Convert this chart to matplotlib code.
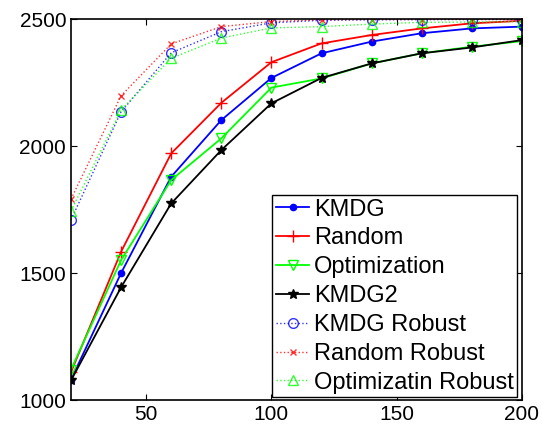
import matplotlib.pyplot as plt

plt.rcParams['font.family'] = ['Liberation Sans', 'DejaVu Sans']

x = [20, 40, 60, 80, 100, 120, 140, 160, 180, 200]
kmdg = [1080, 1500, 1879, 2102, 2268, 2365, 2411, 2444, 2463, 2470]
random_ = [1110, 1584, 1971, 2170, 2330, 2404, 2437, 2463, 2483, 2493]
optim = [1120, 1551, 1866, 2030, 2230, 2266, 2325, 2365, 2391, 2413]
kmdg2 = [1077, 1444, 1774, 1984, 2168, 2268, 2325, 2365, 2388, 2417]
kmdg_rob = [1709, 2135, 2367, 2450, 2485, 2495, 2497, 2498, 2498, 2498]
random_rob = [1791, 2198, 2402, 2470, 2490, 2497, 2498, 2498, 2499, 2499]
optim_rob = [1745, 2142, 2345, 2425, 2465, 2470, 2480, 2487, 2488, 2490]

fig = plt.figure(figsize=(5.42, 4.32), dpi=100)
ax = fig.add_axes([0.131, 0.074, 0.832, 0.882])

ax.plot(x, kmdg, 'b.-', lw=1.3, ms=9, label='KMDG')
ax.plot(x, random_, 'r+-', lw=1.3, ms=8, label='Random')
ax.plot(x, optim, 'v-', color='#00ff00', mfc='none', lw=1.3, ms=7, label='Optimization')
ax.plot(x, kmdg2, 'k*-', lw=1.3, ms=7, label='KMDG2')
ax.plot(x, kmdg_rob, 'o:', color='blue', mfc='none', lw=1, ms=7, alpha=0.8, label='KMDG Robust')
ax.plot(x, random_rob, 'x:', color='red', lw=1, ms=5, alpha=0.8, label='Random Robust')
ax.plot(x, optim_rob, '^:', color='#00ff00', mfc='none', lw=1, ms=7, alpha=0.8, label='Optimizatin Robust')

ax.set_xlim(20, 200)
ax.set_ylim(1000, 2500)
ax.set_xticks([50, 100, 150, 200])
ax.set_yticks([1000, 1500, 2000, 2500])
ax.tick_params(direction='in', top=True, right=True, labelsize=15, length=4)
for s in ax.spines.values():
    s.set_linewidth(1.2)

leg = ax.legend(loc='lower right', bbox_to_anchor=(1.0, -0.005), fontsize=17,
                fancybox=False, framealpha=1, edgecolor='black',
                handlelength=1.4, handletextpad=0.2, labelspacing=0.29,
                borderpad=0.15, borderaxespad=0.2)
leg.get_frame().set_linewidth(1.0)

fig.savefig('out.png', dpi=100)
